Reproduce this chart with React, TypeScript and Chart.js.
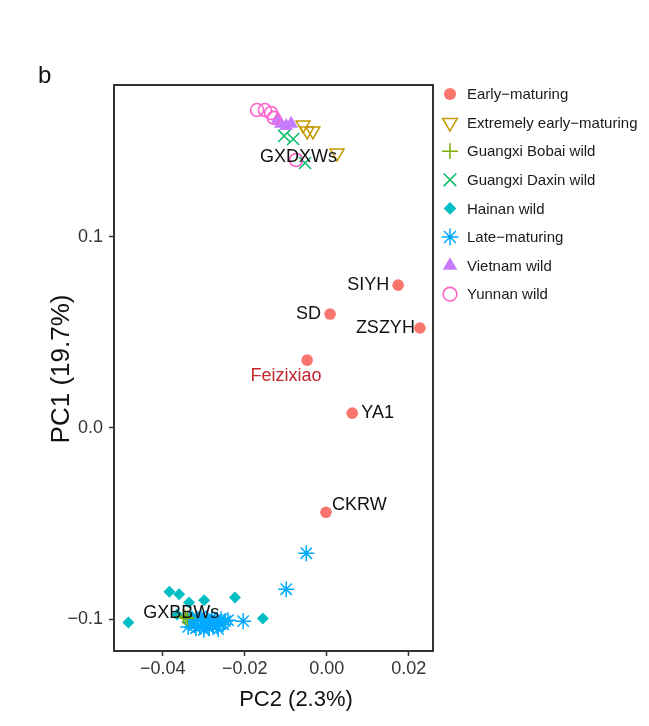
import React, { useEffect, useRef } from 'react';
import { Chart, registerables } from 'chart.js';
import { drawPoint } from 'chart.js/helpers';

Chart.register(...registerables);

const FONT = '"Liberation Sans", Arial, Helvetica, sans-serif';

// ---- data (PC2 = x, PC1 = y) ----
const groupNames = [
  'Early−maturing',
  'Extremely early−maturing',
  'Guangxi Bobai wild',
  'Guangxi Daxin wild',
  'Hainan wild',
  'Late−maturing',
  'Vietnam wild',
  'Yunnan wild',
];

const earlyNames = ['SIYH', 'SD', 'ZSZYH', 'Feizixiao', 'YA1', 'CKRW'];
const earlyX = [0.0174, 0.0008, 0.0227, -0.0048, 0.0062, -0.0002];
const earlyY = [0.0746, 0.0595, 0.0522, 0.0354, 0.0077, -0.0441];

const extremeX = [-0.0058, -0.0048, -0.0034, 0.0025];
const extremeY = [0.1583, 0.1552, 0.1552, 0.1437];

const bobaiX = [-0.0350, -0.0340, -0.0345];
const bobaiY = [-0.0985, -0.0995, -0.0990];

const daxinX = [-0.0104, -0.0082, -0.0053];
const daxinY = [0.1526, 0.1510, 0.1384];

const hainanX = [-0.0484, -0.0384, -0.0360, -0.0336, -0.0299, -0.0224, -0.0156, -0.0365, -0.0330];
const hainanY = [-0.1017, -0.0857, -0.0869, -0.0913, -0.0901, -0.0887, -0.0996, -0.0975, -0.0985];

const lateX = [
  -0.0050, -0.0099, -0.0204, -0.0241,
  -0.0334, -0.0322, -0.0314, -0.0309, -0.0302, -0.0297, -0.0292, -0.0287,
  -0.0283, -0.0278, -0.0273, -0.0268, -0.0263, -0.0258, -0.0253, -0.0319,
  -0.0307, -0.0280, -0.0290, -0.0265, -0.0329, -0.0248, -0.0338, -0.0300,
];
const lateY = [
  -0.0655, -0.0843, -0.1010, -0.1005,
  -0.1016, -0.1031, -0.1000, -0.1041, -0.1010, -0.1026, -0.0995, -0.1047,
  -0.1016, -0.1031, -0.1005, -0.1036, -0.1021, -0.1000, -0.1026, -0.1047,
  -0.0986, -0.0990, -0.1036, -0.1052, -0.1000, -0.1010, -0.1040, -0.1055,
];

const vietnamX = [-0.0121, -0.0112, -0.0099, -0.0087];
const vietnamY = [0.1609, 0.1589, 0.1578, 0.1589];

const yunnanX = [-0.0170, -0.0151, -0.0136, -0.0129, -0.0075];
const yunnanY = [0.1661, 0.1661, 0.1646, 0.1620, 0.1400];

const clusterLabels = ['GXDXWs', 'GXBBWs'];
const clusterLabelX = [-0.0069, -0.0355];
const clusterLabelY = [0.1417, -0.0970];

const xTicks = [-0.04, -0.02, 0.0, 0.02];
const yTicks = [-0.1, 0.0, 0.1];
const xTitle = 'PC2 (2.3%)';
const yTitle = 'PC1 (19.7%)';
const panelTag = 'b';

// ---- styles ----
const groupStyles = [
  { pointStyle: 'circle', rotation: 0, radius: 5.8, fill: '#F8766D', stroke: '#F8766D', bw: 0 },
  { pointStyle: 'triangle', rotation: 180, radius: 8, fill: 'rgba(0,0,0,0)', stroke: '#C49A00', bw: 1.5 },
  { pointStyle: 'cross', rotation: 0, radius: 7.5, fill: 'rgba(0,0,0,0)', stroke: '#7CAE00', bw: 1.5 },
  { pointStyle: 'crossRot', rotation: 0, radius: 8.5, fill: 'rgba(0,0,0,0)', stroke: '#00BE67', bw: 1.5 },
  { pointStyle: 'rectRot', rotation: 0, radius: 6, fill: '#00BFC4', stroke: '#00BFC4', bw: 0 },
  { pointStyle: 'star', rotation: 0, radius: 8, fill: 'rgba(0,0,0,0)', stroke: '#00A9FF', bw: 1.5 },
  { pointStyle: 'triangle', rotation: 0, radius: 8, fill: '#C77CFF', stroke: '#C77CFF', bw: 0 },
  { pointStyle: 'circle', rotation: 0, radius: 6.5, fill: 'rgba(0,0,0,0)', stroke: '#FF61CC', bw: 1.6 },
];

const earlyLabelOffsets = [
  { dx: -9, dy: 0, align: 'right', color: '#111' },
  { dx: -9, dy: 0, align: 'right', color: '#111' },
  { dx: -5, dy: 0, align: 'right', color: '#111' },
  { dx: -21, dy: 16, align: 'center', color: '#C1272D' },
  { dx: 9, dy: 0, align: 'left', color: '#111' },
  { dx: 6, dy: -7, align: 'left', color: '#111' },
];

const zip = (xs: number[], ys: number[]) => xs.map((x, i) => ({ x, y: ys[i] }));

const fmt = (v: number, d: number) => {
  const s = Math.abs(v) < 1e-12 ? (0).toFixed(d) : v.toFixed(d);
  return s.replace('-', '\u2212');
};

export default function App() {
  const ref = useRef<HTMLCanvasElement | null>(null);

  useEffect(() => {
    document.body.style.margin = '0';
    const canvas = ref.current;
    if (!canvas) return;

    const seriesData = [
      zip(earlyX, earlyY),
      zip(extremeX, extremeY),
      zip(bobaiX, bobaiY),
      zip(daxinX, daxinY),
      zip(hainanX, hainanY),
      zip(lateX, lateY),
      zip(vietnamX, vietnamY),
      zip(yunnanX, yunnanY),
    ];
    const drawOrder = [1, 6, 7, 6, 8, 7, 5, 4];

    const datasets = groupNames.map((name, i) => {
      const st = groupStyles[i];
      return {
        label: name,
        data: seriesData[i],
        pointStyle: st.pointStyle,
        rotation: st.rotation,
        pointRadius: st.radius,
        pointHoverRadius: st.radius,
        backgroundColor: st.fill,
        borderColor: st.stroke,
        borderWidth: st.bw,
        order: drawOrder[i],
      };
    });

    const decor = {
      id: 'decor',
      afterDatasetsDraw(chart: any) {
        const { ctx, chartArea, scales } = chart;
        const xs = scales.x;
        const ys = scales.y;
        ctx.save();
        // point labels of early-maturing accessions
        ctx.font = `18px ${FONT}`;
        ctx.textBaseline = 'middle';
        earlyNames.forEach((n, i) => {
          const o = earlyLabelOffsets[i];
          ctx.fillStyle = o.color;
          ctx.textAlign = o.align;
          ctx.fillText(n, xs.getPixelForValue(earlyX[i]) + o.dx, ys.getPixelForValue(earlyY[i]) + o.dy);
        });
        // cluster labels
        ctx.fillStyle = '#111';
        ctx.textAlign = 'center';
        clusterLabels.forEach((n, i) => {
          ctx.fillText(n, xs.getPixelForValue(clusterLabelX[i]), ys.getPixelForValue(clusterLabelY[i]));
        });
        // panel frame
        ctx.strokeStyle = '#333333';
        ctx.lineWidth = 2;
        ctx.strokeRect(chartArea.left, chartArea.top, chartArea.right - chartArea.left, chartArea.bottom - chartArea.top);
        ctx.restore();
      },
      afterDraw(chart: any) {
        const { ctx } = chart;
        ctx.save();
        // axis titles
        ctx.fillStyle = '#111';
        ctx.font = `22px ${FONT}`;
        ctx.textAlign = 'center';
        ctx.textBaseline = 'middle';
        ctx.fillText(xTitle, 296, 700);
        ctx.save();
        ctx.font = `26px ${FONT}`;
        ctx.translate(62, 369);
        ctx.rotate(-Math.PI / 2);
        ctx.fillText(yTitle, 0, 0);
        ctx.restore();
        // panel tag
        ctx.font = `24px ${FONT}`;
        ctx.textAlign = 'left';
        ctx.textBaseline = 'alphabetic';
        ctx.fillText(panelTag, 38, 83);
        // legend
        const lx = 450;
        const tx = 467;
        const y0 = 94;
        const step = 28.6;
        groupNames.forEach((n, i) => {
          const st = groupStyles[i];
          const y = y0 + i * step;
          ctx.fillStyle = st.fill;
          ctx.strokeStyle = st.stroke;
          ctx.lineWidth = st.bw;
          drawPoint(ctx, { pointStyle: st.pointStyle, rotation: st.rotation, radius: st.radius * 1.05, borderWidth: st.bw }, lx, y);
          ctx.fillStyle = '#1a1a1a';
          ctx.font = `15px ${FONT}`;
          ctx.textAlign = 'left';
          ctx.textBaseline = 'middle';
          ctx.fillText(n, tx, y + 1);
        });
        ctx.restore();
      },
    };

    const chart = new Chart(canvas, {
      type: 'scatter',
      data: { datasets },
      options: {
        responsive: false,
        animation: false,
        devicePixelRatio: 1,
        layout: { padding: { top: 85, right: 216, left: 0, bottom: 0 } },
        plugins: {
          legend: { display: false },
          tooltip: { enabled: false },
          title: { display: false },
        },
        scales: {
          x: {
            type: 'linear',
            min: -0.0519,
            max: 0.0259,
            afterBuildTicks: (s: any) => {
              s.ticks = xTicks.map((v) => ({ value: v }));
            },
            afterFit: (s: any) => {
              s.height = 75;
            },
            ticks: {
              callback: (v: any) => fmt(Number(v), 2),
              font: { family: FONT, size: 18 },
              color: '#333333',
              padding: 2,
              maxRotation: 0,
              autoSkip: false,
            },
            grid: {
              display: true,
              drawOnChartArea: false,
              drawTicks: true,
              tickLength: 5,
              tickColor: '#333333',
              tickWidth: 1.5,
            },
            border: { display: false },
          },
          y: {
            type: 'linear',
            min: -0.1166,
            max: 0.1792,
            afterBuildTicks: (s: any) => {
              s.ticks = yTicks.map((v) => ({ value: v }));
            },
            afterFit: (s: any) => {
              s.width = 114;
            },
            ticks: {
              callback: (v: any) => fmt(Number(v), 1),
              font: { family: FONT, size: 18 },
              color: '#333333',
              padding: 6,
              autoSkip: false,
            },
            grid: {
              display: true,
              drawOnChartArea: false,
              drawTicks: true,
              tickLength: 5,
              tickColor: '#333333',
              tickWidth: 1.5,
            },
            border: { display: false },
          },
        },
      },
      plugins: [decor],
    });

    return () => {
      chart.destroy();
    };
  }, []);

  return <canvas ref={ref} width={649} height={726} style={{ display: 'block' }} />;
}
